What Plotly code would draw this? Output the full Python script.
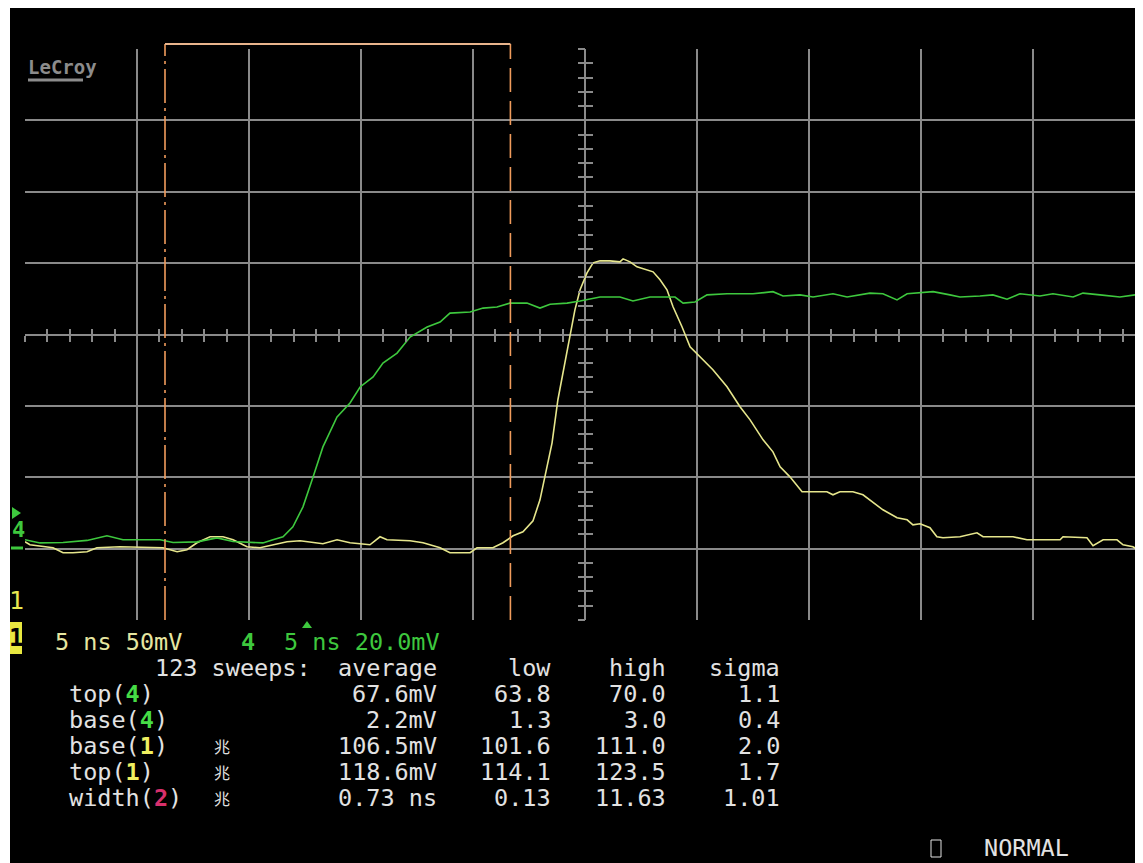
import plotly.graph_objects as go

# channel 1 (yellow, 50 mV/div) - time in ns, level in mV
t1 = [-25.0, -24.78, -23.75, -23.30, -22.86, -22.23, -21.79, -20.76, -18.84, -18.21,
      -17.77, -17.32, -16.74, -16.16, -15.71, -15.09, -14.51, -13.93, -13.30, -12.72,
      -12.14, -11.70, -11.07, -10.49, -9.60, -9.15, -8.84, -7.81, -7.23, -6.47,
      -6.03, -5.13, -4.82, -4.11, -3.66, -3.21, -2.77, -2.32, -2.01, -1.79,
      -1.47, -1.21, -0.89, -0.67, -0.45, -0.22, 0.09, 0.36, 0.67, 1.12,
      1.56, 1.70, 2.01, 2.32, 2.77, 3.04, 3.35, 3.66, 3.93, 4.33,
      4.69, 5.13, 5.71, 6.34, 6.92, 7.37, 7.95, 8.39, 8.71, 9.15,
      9.69, 10.80, 11.07, 11.38, 11.96, 12.41, 12.86, 13.30, 13.93, 14.38,
      14.64, 14.96, 15.40, 15.71, 15.98, 16.74, 17.50, 17.77, 19.11, 19.73,
      21.21, 21.34, 22.41, 22.68, 23.13, 23.75, 24.02, 24.46, 24.91]
v1 = [104.8, 102.7, 100.6, 97.1, 97.1, 97.8, 100.6, 101.3, 100.6, 97.8,
      99.2, 104.1, 108.3, 108.3, 106.2, 101.3, 100.6, 102.7, 104.8, 105.5,
      104.1, 103.4, 106.2, 104.1, 102.7, 108.3, 106.2, 105.5, 104.1, 100.6,
      97.1, 97.1, 100.6, 100.6, 104.1, 109.0, 111.8, 119.5, 134.2, 150.3,
      174.1, 204.3, 230.2, 248.4, 267.3, 281.3, 293.2, 300.2, 301.6, 301.6,
      300.9, 303.0, 300.9, 297.4, 295.3, 293.9, 288.3, 281.3, 269.4, 255.4,
      241.4, 234.4, 225.3, 213.4, 199.4, 190.2, 176.2, 167.8, 157.3, 150.3,
      139.8, 139.8, 137.7, 139.8, 139.8, 137.7, 132.1, 127.2, 121.6, 120.2,
      116.7, 117.4, 114.6, 108.3, 107.6, 108.3, 111.1, 108.3, 108.3, 106.2,
      106.2, 108.3, 107.6, 102.0, 106.2, 106.2, 102.7, 101.3, 97.1]

# channel 4 (green, 20 mV/div)
t4 = [-25.0, -24.33, -23.30, -22.23, -21.34, -20.63, -18.97, -18.39, -17.32, -16.43,
      -15.71, -14.38, -13.93, -13.48, -13.04, -12.59, -12.14, -11.70, -11.07, -10.49,
      -10.04, -9.46, -9.02, -8.39, -7.81, -7.05, -6.47, -6.03, -5.13, -4.55,
      -3.93, -3.35, -2.59, -2.01, -1.56, -0.80, -0.22, 0.67, 1.56, 2.14,
      2.90, 3.35, 4.02, 4.38, 4.91, 5.45, 6.34, 7.50, 8.39, 8.84,
      9.60, 10.18, 11.07, 11.70, 12.72, 13.30, 13.93, 14.38, 15.54, 16.29,
      16.74, 17.63, 18.21, 18.84, 19.42, 20.31, 20.89, 21.79, 22.23, 22.99,
      23.88, 24.91]
v4 = [2.5, 1.6, 1.7, 2.3, 3.6, 2.5, 2.5, 1.7, 1.9, 3.0,
      2.0, 1.6, 2.5, 3.3, 6.1, 11.7, 20.1, 28.5, 36.9, 40.8,
      45.3, 48.1, 52.0, 54.8, 59.3, 62.1, 63.5, 66.0, 66.3, 67.4,
      67.7, 68.8, 68.8, 67.4, 68.5, 68.8, 69.4, 70.5, 70.5, 69.4,
      70.5, 70.5, 70.5, 68.8, 69.1, 71.1, 71.4, 71.4, 72.0, 70.8,
      71.1, 70.5, 71.4, 70.5, 71.6, 71.4, 69.7, 71.4, 72.0, 71.1,
      70.5, 70.8, 71.1, 69.9, 71.4, 70.8, 71.4, 70.5, 71.6, 71.1,
      70.5, 71.4]

cursor_t = [-18.75, -3.33]

# measurement table
stat_names = ["top", "base", "base", "top", "width"]
stat_chan = ["4", "4", "1", "1", "2"]
stat_avg = ["67.6mV", "2.2mV", "106.5mV", "118.6mV", "0.73 ns"]
stat_low = ["63.8", "1.3", "101.6", "114.1", "0.13"]
stat_high = ["70.0", "3.0", "111.0", "123.5", "11.63"]
stat_sigma = ["1.1", "0.4", "2.0", "1.7", "1.01"]

YEL = "#e6e68c"
GRN = "#3ec83e"
GRID = "#8a8a8a"
TXT = "#e2e2e2"
ORG = "#f09c5c"
chan_col = {"4": "#46dc46", "1": "#f0f060", "2": "#d8306c"}
MONO = "DejaVu Sans Mono"
FS = 23.5

# the page body has an 8px margin, so the figure sits 8px in from the window corner
OFF = 8
W, H = 1143 - OFF, 863 - OFF
L, T = 25, 49          # plot area corner in window pixels
PW, PH = 1118, 571
B = H - (T - OFF) - PH


def px(x):
    return (x - L) / PW


def py(y):
    return (T + PH - y) / PH


def col(c):
    return 10 + 14.3 * c


fig = go.Figure()
fig.add_trace(go.Scatter(x=t1, y=v1, mode="lines", line=dict(color=YEL, width=1.6),
                         xaxis="x", yaxis="y", showlegend=False))
fig.add_trace(go.Scatter(x=t4, y=v4, mode="lines", line=dict(color=GRN, width=1.6),
                         xaxis="x2", yaxis="y2", showlegend=False))

xr = [-25, -25 + PW / 22.4]
cx = px(585)

fig.update_layout(
    width=W, height=H,
    margin=dict(l=L - OFF, r=0, t=T - OFF, b=B, pad=0),
    paper_bgcolor="black", plot_bgcolor="black",
    xaxis=dict(range=xr, dtick=5, tick0=0, showgrid=True, gridcolor=GRID, gridwidth=1.5,
               zeroline=False, showline=False, showticklabels=False,
               anchor="free", position=0.5, ticks="outside", ticklen=6, tickwidth=1.5,
               tickcolor=GRID,
               minor=dict(dtick=1, ticks="outside", ticklen=6, tickwidth=1.5,
                          tickcolor=GRID, showgrid=False)),
    xaxis2=dict(range=xr, overlaying="x", anchor="free", position=0.5, dtick=1, tick0=0,
                ticks="inside", ticklen=6, tickwidth=1.5, tickcolor=GRID,
                showgrid=False, zeroline=False, showline=False, showticklabels=False),
    yaxis=dict(range=[50, 450], dtick=50, tick0=0, showgrid=True, gridcolor=GRID,
               gridwidth=1.5, zeroline=False, showline=False, showticklabels=False,
               anchor="free", position=cx, ticks="inside", ticklen=7, tickwidth=1.5,
               tickcolor=GRID,
               minor=dict(dtick=10, ticks="inside", ticklen=7, tickwidth=1.5,
                          tickcolor=GRID, showgrid=False)),
    yaxis2=dict(range=[-20, 140], overlaying="y", anchor="free", position=cx, dtick=4,
                tick0=0, ticks="outside", ticklen=7, tickwidth=1.5, tickcolor=GRID,
                showgrid=False, zeroline=False, showline=False, showticklabels=False),
    font=dict(family=MONO, size=FS, color=TXT),
)

shapes = []
# white left strip of the screenshot
shapes.append(dict(type="rect", xref="paper", yref="paper", x0=px(OFF - 1), x1=px(10),
                   y0=py(870), y1=py(0), fillcolor="white", line=dict(width=0), layer="above"))
# cursors
shapes.append(dict(type="line", xref="x", yref="paper", x0=cursor_t[0], x1=cursor_t[0],
                   y0=0, y1=py(44), line=dict(color=ORG, width=1.6, dash="34px,5px,3px,5px")))
shapes.append(dict(type="line", xref="x", yref="paper", x0=cursor_t[1], x1=cursor_t[1],
                   y0=0, y1=py(44), line=dict(color=ORG, width=1.6, dash="24px,9px")))
shapes.append(dict(type="line", xref="x", yref="paper", x0=cursor_t[0], x1=cursor_t[1],
                   y0=py(44), y1=py(44), line=dict(color="#e8b48c", width=1.8)))
# logo underline
shapes.append(dict(type="line", xref="paper", yref="paper", x0=px(28), x1=px(83),
                   y0=py(80), y1=py(80), line=dict(color="#8c8c8c", width=3)))
# channel markers at left edge
shapes.append(dict(type="path", xref="paper", yref="paper",
                   path=f"M {px(12)} {py(507)} L {px(21)} {py(513)} L {px(12)} {py(519)} Z",
                   fillcolor=GRN, line=dict(width=0)))
shapes.append(dict(type="line", xref="paper", yref="paper", x0=px(11), x1=px(23),
                   y0=py(548), y1=py(548), line=dict(color=GRN, width=3)))
shapes.append(dict(type="rect", xref="paper", yref="paper", x0=px(10), x1=px(22),
                   y0=py(654), y1=py(622), fillcolor="#e8e840", line=dict(width=0)))
# small trigger marker
shapes.append(dict(type="path", xref="paper", yref="paper",
                   path=f"M {px(302)} {py(628)} L {px(307)} {py(621)} L {px(312)} {py(628)} Z",
                   fillcolor=GRN, line=dict(width=0)))
# NORMAL box
shapes.append(dict(type="rect", xref="paper", yref="paper", x0=px(931), x1=px(941),
                   y0=py(857), y1=py(840), line=dict(color=TXT, width=1)))

ann = []


def txt(x, y, s, anchor="left", color=TXT, size=FS, bold=False, family=MONO):
    if bold:
        s = f"<b>{s}</b>"
    ann.append(dict(x=px(x), y=py(y), xref="paper", yref="paper", text=s, showarrow=False,
                    xanchor=anchor, yanchor="middle",
                    font=dict(color=color, size=size, family=family)))


txt(26, 67, "LeCroy", color="#8c8c8c", size=19, bold=True)
txt(18, 529, "4", anchor="center", color=GRN, size=22, bold=True)
txt(16, 600, "1", anchor="center", color="#e8e850", size=25)
txt(16, 638, "1", anchor="center", color="black", size=24, bold=True)

y_chan = 642
txt(col(3), y_chan, "5 ns 50mV", color="#e6e6a0")
txt(col(16), y_chan, "4", color=GRN, bold=True)
txt(col(19), y_chan, "5 ns 20.0mV", color=GRN)

y_head = 668
txt(col(10), y_head, "123 sweeps:")
txt(col(30), y_head, "average", anchor="right")
txt(col(38), y_head, "low", anchor="right")
txt(col(46), y_head, "high", anchor="right")
txt(col(54), y_head, "sigma", anchor="right")

row_y = [694, 720, 746, 772, 798]
for i in range(len(stat_names)):
    c = stat_chan[i]
    txt(col(4), row_y[i], f"{stat_names[i]}(<span style='color:{chan_col[c]}'><b>{c}</b></span>)")
    if i >= 2:
        txt(222, row_y[i], "兆", anchor="center", size=16, family="Noto Sans CJK SC")
    txt(col(30), row_y[i], stat_avg[i], anchor="right")
    txt(col(38), row_y[i], stat_low[i], anchor="right")
    txt(col(46), row_y[i], stat_high[i], anchor="right")
    txt(col(54), row_y[i], stat_sigma[i], anchor="right")

txt(col(68), 848, "NORMAL")

fig.update_layout(shapes=shapes, annotations=ann)
fig.write_html("out.html")
